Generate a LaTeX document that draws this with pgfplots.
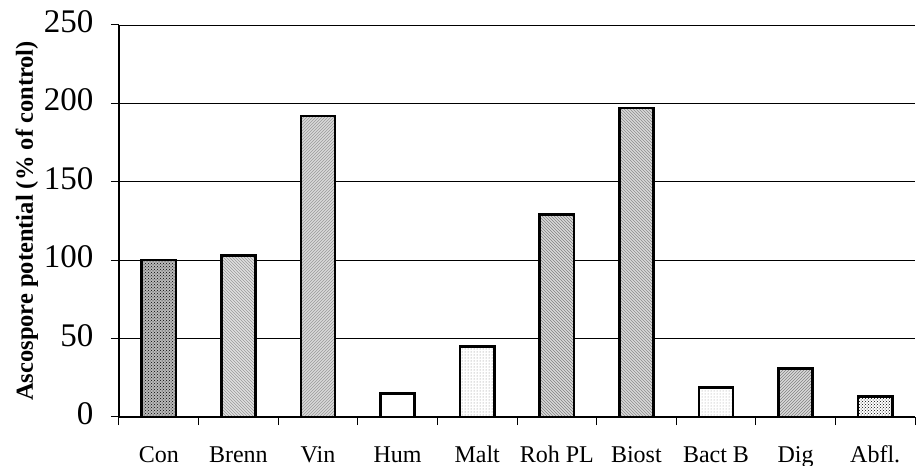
\documentclass[border=0pt]{standalone}
\usepackage{fontspec}
\setmainfont{Liberation Serif}
\usepackage{pgfplots}
\pgfplotsset{compat=1.18}
\usetikzlibrary{patterns}

% one style per treatment, roughly the Excel fill patterns
\pgfplotsset{
  barbase/.style={draw=black, line width=2.6pt, bar shift=0pt},
}

\begin{document}
\begin{tikzpicture}
  \begin{axis}[
    name=ax,
    ybar,
    scale only axis,
    width=796pt, height=392pt,
    bar width=0.43,
    xmin=-0.5, xmax=9.5,
    ymin=0, ymax=250,
    ytick={0,50,...,250},
    xtick={-0.5,0.5,...,9.5},
    x tick label as interval,
    xticklabels={Con,Brenn,Vin,Hum,Malt,Roh PL,Biost,Bact B,Dig,Abfl.},
    typeset ticklabels with strut,
    axis x line*=bottom,
    axis y line*=left,
    axis line style={black, line width=1.3pt, -},
    tick align=outside,
    major tick length=8pt,
    tick style={black, line width=1pt},
    ymajorgrids,
    grid style={black, line width=0.9pt},
    /pgf/number format/assume math mode=true,
    yticklabel style={font=\fontsize{33}{38}\selectfont, xshift=-14pt},
    xticklabel style={font=\fontsize{24}{28}\selectfont, yshift=-14pt},
    ylabel={\textbf{Ascospore potential (\% of control)}},
    every axis y label/.style={at={(axis description cs:-0.1156,0.5)},
      rotate=90, anchor=center,
      font=\fontsize{24.5}{29}\selectfont},
  ]
    \addplot[barbase, fill=gray!55, postaction={pattern=crosshatch dots, pattern color=black}] coordinates {(0,100)};
    \addplot[barbase, fill=gray!25, postaction={pattern=north west lines, pattern color=gray!80}] coordinates {(1,103)};
    \addplot[barbase, fill=gray!30, postaction={pattern=north east lines, pattern color=gray!80}] coordinates {(2,192)};
    \addplot[barbase, fill=white] coordinates {(3,15)};
    \addplot[barbase, fill=white, postaction={pattern=dots, pattern color=gray}] coordinates {(4,45)};
    \addplot[barbase, fill=gray!30, postaction={pattern=north west lines, pattern color=gray}] coordinates {(5,129)};
    \addplot[barbase, fill=gray!30, postaction={pattern=north west lines, pattern color=gray!90}] coordinates {(6,197)};
    \addplot[barbase, fill=white, postaction={pattern=dots, pattern color=gray!80}] coordinates {(7,19)};
    \addplot[barbase, fill=gray!30, postaction={pattern=north east lines, pattern color=gray}] coordinates {(8,31)};
    \addplot[barbase, fill=white, postaction={pattern=crosshatch dots, pattern color=black}] coordinates {(9,13)};
  \end{axis}
  \pgfresetboundingbox
  \path[use as bounding box] ([shift={(-119pt,-49pt)}]ax.south west) rectangle ++(916pt,466pt);
\end{tikzpicture}
\end{document}
